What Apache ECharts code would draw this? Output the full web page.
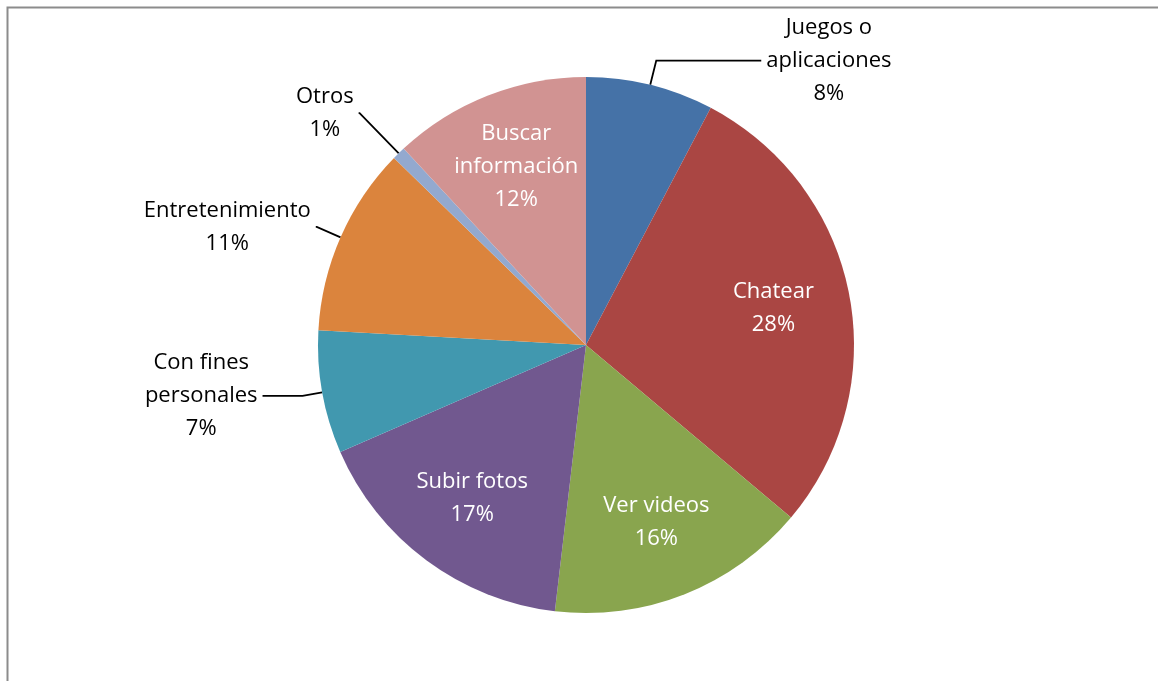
<!DOCTYPE html>
<html>
<head>
<meta charset="utf-8">
<script src="https://cdn.jsdelivr.net/npm/echarts@6/dist/echarts.min.js"></script>
<style>
  html, body { margin: 0; padding: 0; background: #fff; }
  #chart { width: 1158px; height: 681px; }
</style>
</head>
<body>
<div id="chart"></div>
<script>
// categories clockwise from 12 o'clock
var categories = ['Juegos o\naplicaciones', 'Chatear', 'Ver videos', 'Subir fotos',
  'Con fines\npersonales', 'Entretenimiento', 'Otros', 'Buscar\ninformación']
var shares = [7.7, 28.4, 15.7, 16.6, 7.4, 11.4, 0.8, 11.9]
var colors = ['#4572A7', '#AA4643', '#89A54E', '#71588F', '#4198AF', '#DB843D', '#93A9CF', '#D19392']
// which labels sit inside the slice
var insideLabel = [false, true, true, true, false, false, false, true]
// leader line lengths for the outside labels [length, length2]
var leader = [[25, 105], [0, 0], [0, 0], [0, 0], [20, 40], [26, 1], [56, 1], [0, 0]]

var font = '"Open Sans", Lato, sans-serif'
var chart = echarts.init(document.getElementById('chart'))

var mainData = categories.map(function (name, i) {
  return {
    name: name,
    value: shares[i],
    itemStyle: { color: colors[i] },
    label: { show: !insideLabel[i] },
    labelLine: { show: !insideLabel[i], length: leader[i][0], length2: leader[i][1] }
  }
})

var innerData = categories.map(function (name, i) {
  return { name: name, value: shares[i], label: { show: insideLabel[i] } }
})

function pctText (p) {
  return p.name + '\n' + Math.round(p.percent) + '%'
}

chart.setOption({
  animation: false,
  graphic: [{
    type: 'rect',
    left: 5,
    top: 5,
    shape: { width: 1200, height: 720 },
    style: { fill: 'none', stroke: '#8c8c8c', lineWidth: 2 },
    silent: true
  }],
  series: [
    {
      type: 'pie',
      center: [586, 345],
      radius: 268,
      startAngle: 90,
      clockwise: true,
      avoidLabelOverlap: false,
      silent: true,
      data: mainData,
      label: {
        position: 'outside',
        formatter: function (p) { return '{a|' + pctText(p).split('\n').join('}\n{a|') + '}' },
        rich: {
          a: { fontFamily: font, fontSize: 22, lineHeight: 33, color: '#000', align: 'center' }
        },
        distanceToLabelLine: 5
      },
      labelLine: { lineStyle: { color: '#000', width: 1.8 } }
    },
    {
      type: 'pie',
      center: [586, 345],
      radius: [108, 268],
      startAngle: 90,
      clockwise: true,
      silent: true,
      data: innerData,
      itemStyle: { color: 'rgba(0,0,0,0)' },
      label: {
        position: 'inside',
        formatter: pctText,
        fontFamily: font,
        fontSize: 22,
        lineHeight: 33,
        color: '#fff'
      },
      labelLine: { show: false }
    }
  ]
})
</script>
</body>
</html>
